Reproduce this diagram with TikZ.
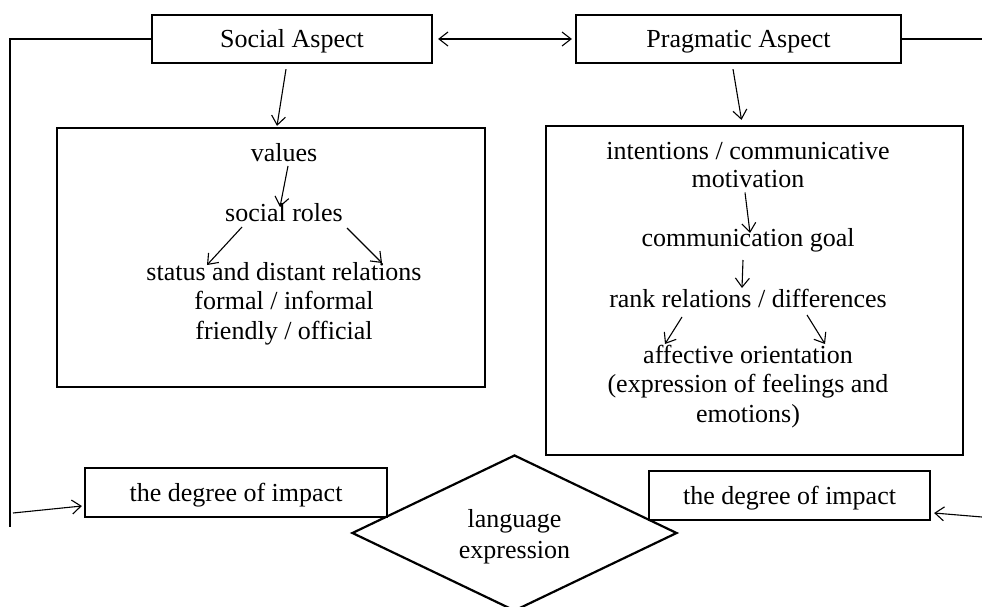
\documentclass[tikz,border=0pt]{standalone}
\usepackage{fontspec}
\setmainfont{Liberation Serif}
\usetikzlibrary{arrows.meta,shapes.geometric,calc}
\begin{document}
\begin{tikzpicture}[x=1pt,y=-1pt,
  every node/.style={font=\fontsize{26}{29}\selectfont, inner sep=0pt},
  box/.style={draw, line width=2.2pt, rectangle, text height=18pt, text depth=0pt},
  bigbox/.style={draw, line width=2.2pt, rectangle},
  txt/.style={anchor=base},
  conn/.style={line width=1.1pt},
  arr/.style={line width=1.1pt, -{Straight Barb[length=9pt,width=14pt,line width=1.1pt]}},
  darr/.style={line width=1.1pt, {Straight Barb[length=9pt,width=14pt,line width=1.1pt]}-{Straight Barb[length=9pt,width=14pt,line width=1.1pt]}}
]
\useasboundingbox (0,0) rectangle (982,607);
% top boxes
\node[box, minimum width=280pt, minimum height=48pt] (soc) at (292,39) {Social Aspect};
\node[box, minimum width=325pt, minimum height=48pt] (prag) at (738.5,39) {Pragmatic Aspect};
% big boxes
\node[bigbox, minimum width=428pt, minimum height=259pt] (lbig) at (271,257.5) {};
\node[bigbox, minimum width=417pt, minimum height=329pt] (rbig) at (754.5,290.5) {};
% bottom boxes
\node[box, minimum width=302pt, minimum height=49pt] (ldeg) at (236,492.5) {the degree of impact};
\node[box, minimum width=281pt, minimum height=49pt] (rdeg) at (789.5,495.5) {the degree of impact};
\node[draw, line width=2.2pt, diamond, aspect=2.08, minimum width=325pt, minimum height=156pt] (lang) at (514.5,533) {};
\node[txt] (lang1) at (514.5,527) {language};
\node[txt] (lang2) at (514.5,558) {expression};
% left box texts
\node[txt] (values) at (284,161) {values};
\node[txt] (roles) at (284,221) {social roles};
\node[txt] (status) at (284,280) {status and distant relations};
\node[txt] (formal) at (284,309.5) {formal / informal};
\node[txt] (friendly) at (284,339) {friendly / official};
% right box texts
\node[txt] (intent) at (748,159) {intentions / communicative};
\node[txt] (motiv) at (748,187.5) {motivation};
\node[txt] (goal) at (748,246) {communication goal};
\node[txt] (rank) at (748,307) {rank relations / differences};
\node[txt] (affect) at (748,363) {affective orientation};
\node[txt] (express) at (748,392.5) {(expression of feelings and};
\node[txt] (emot) at (748,422) {emotions)};
% connector coordinates
\coordinate (lc) at (10,39);
\coordinate (lbot) at (10,527);
\coordinate (la) at (13,513);
\coordinate (rtop) at (982,39);
\coordinate (ra) at (982,517);
% connectors
\draw[darr, shorten <=5pt, shorten >=3pt] (soc.east) -- (prag.west);
\draw[conn] (soc.west) -- (lc) -- (lbot);
\draw[arr] (la) -- ($(ldeg.west)+(-2,13.5)$);
\draw[conn] (prag.east) -- (rtop);
\draw[arr] (ra) -- ($(rdeg.east)+(3,17.5)$);
\draw[arr] ($(soc.south)+(-6,5)$) -- ($(lbig.north)+(6,-1)$);
\draw[arr] ($(prag.south)+(-5.5,5)$) -- ($(rbig.north)+(-13,-5)$);
\draw[arr] ($(values.base)+(4,5)$) -- ($(roles.base)+(-4,-14)$);
\draw[arr] ($(roles.base)+(-42,6)$) -- ($(status.base)+(-77,-15)$);
\draw[arr] ($(roles.base)+(63,7)$) -- ($(status.base)+(98,-17)$);
\draw[arr] ($(motiv.base)+(-3,5)$) -- ($(goal.base)+(2,-13)$);
\draw[arr] ($(goal.base)+(-5,14)$) -- ($(rank.base)+(-6,-19)$);
\draw[arr] ($(rank.base)+(-66,10)$) -- ($(affect.base)+(-83,-19)$);
\draw[arr] ($(rank.base)+(59,8)$) -- ($(affect.base)+(77,-19)$);
\end{tikzpicture}
\end{document}
